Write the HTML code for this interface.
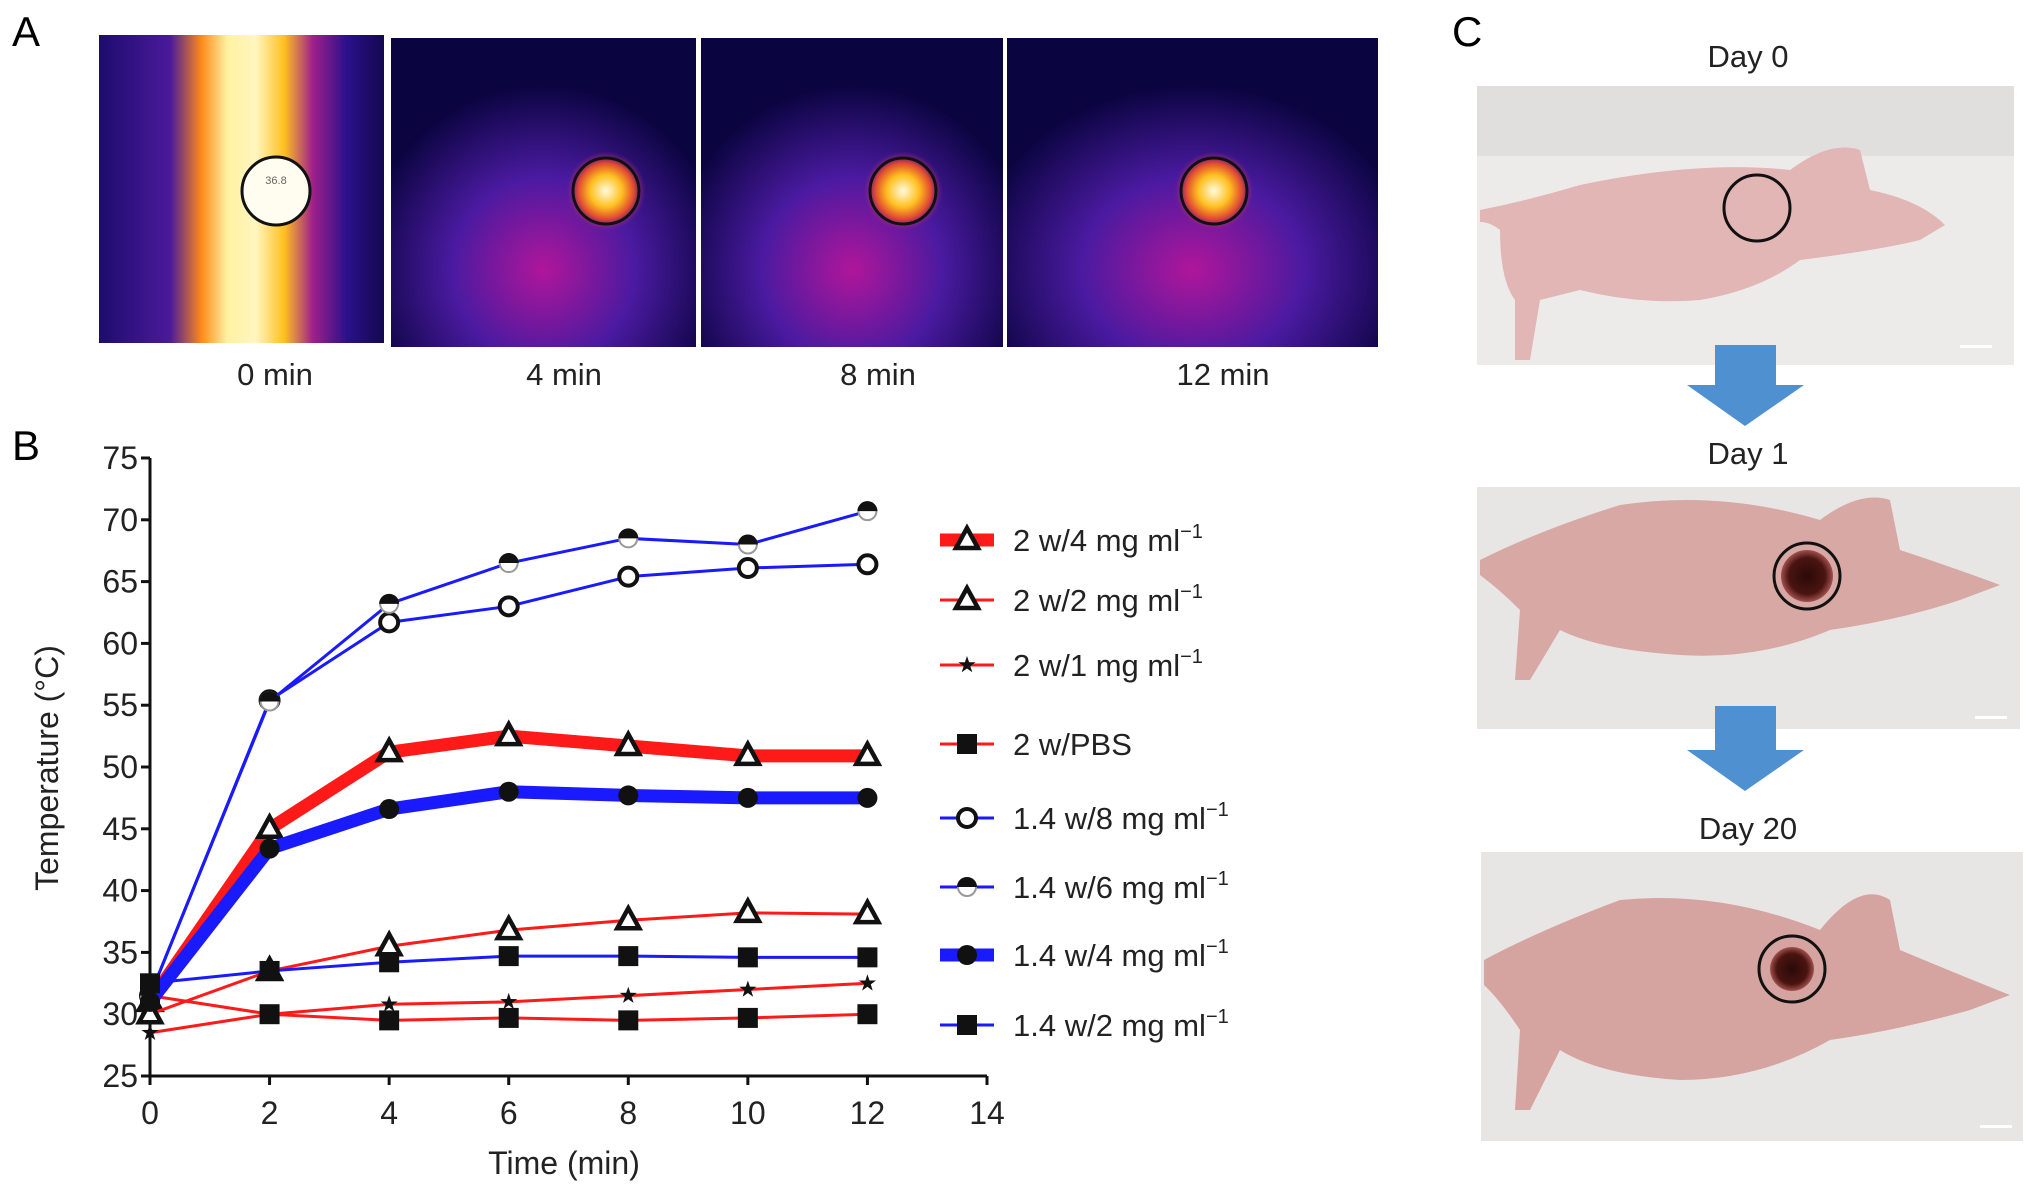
<!DOCTYPE html>
<html><head><meta charset="utf-8"><style>
html,body{margin:0;padding:0;background:#fff;}
svg{display:block;font-family:"Liberation Sans",sans-serif;}
</style></head><body>
<svg id="fig" width="2032" height="1190" viewBox="0 0 2032 1190" xmlns="http://www.w3.org/2000/svg">
<defs>
<linearGradient id="band0" x1="0" x2="1" y1="0" y2="0">
<stop offset="0" stop-color="#1d0c6e"/><stop offset="0.25" stop-color="#4a1a9a"/><stop offset="0.36" stop-color="#ff8a1a"/><stop offset="0.45" stop-color="#fff2a0"/><stop offset="0.55" stop-color="#fff6c0"/><stop offset="0.65" stop-color="#ffc020"/><stop offset="0.75" stop-color="#a0208a"/><stop offset="0.87" stop-color="#2a108a"/><stop offset="1" stop-color="#140850"/></linearGradient>
<radialGradient id="spot" cx="0.5" cy="0.5" r="0.5">
<stop offset="0" stop-color="#fffbe0"/><stop offset="0.4" stop-color="#ffc020"/><stop offset="0.7" stop-color="#e04a30"/><stop offset="1" stop-color="#7a1a90" stop-opacity="0"/></radialGradient>
<radialGradient id="glow" cx="0.5" cy="0.75" r="0.6">
<stop offset="0" stop-color="#b0169a"/><stop offset="0.5" stop-color="#4a1aa0"/><stop offset="1" stop-color="#0a0440"/></radialGradient>
<radialGradient id="tum" cx="0.5" cy="0.5" r="0.5"><stop offset="0" stop-color="#2a0a0a"/><stop offset="0.7" stop-color="#4a1410"/><stop offset="1" stop-color="#a05050"/></radialGradient>
</defs>

<text x="12" y="46" font-size="42">A</text>
<g>
<rect x="99" y="35" width="285" height="308" fill="url(#band0)"/>
<ellipse cx="276" cy="191" rx="34" ry="34" fill="#fffdf0" stroke="#111" stroke-width="3"/>
<text x="276" y="184" font-size="11" text-anchor="middle" fill="#666">36.8</text>
</g>
<g>
<rect x="391" y="38" width="305" height="309" fill="url(#glow)"/>
<circle cx="606" cy="191" r="40" fill="url(#spot)"/>
<circle cx="606" cy="191" r="33" fill="none" stroke="#111" stroke-width="3"/>
</g>
<g>
<rect x="701" y="38" width="302" height="309" fill="url(#glow)"/>
<circle cx="903" cy="191" r="40" fill="url(#spot)"/>
<circle cx="903" cy="191" r="33" fill="none" stroke="#111" stroke-width="3"/>
</g>
<g>
<rect x="1007" y="38" width="371" height="309" fill="url(#glow)"/>
<circle cx="1214" cy="191" r="40" fill="url(#spot)"/>
<circle cx="1214" cy="191" r="33" fill="none" stroke="#111" stroke-width="3"/>
</g>
<g font-size="31" text-anchor="middle" fill="#222">
<text x="275" y="385">0 min</text>
<text x="564" y="385">4 min</text>
<text x="878" y="385">8 min</text>
<text x="1223" y="385">12 min</text>
</g>

<text x="12" y="460" font-size="42">B</text>
<g id="chart"></g>

<text x="1452" y="46" font-size="42">C</text>
<g font-size="31" text-anchor="middle" fill="#222">
<text x="1748" y="67">Day 0</text>
<text x="1748" y="464">Day 1</text>
<text x="1748" y="839">Day 20</text>
</g>
<g>
<rect x="1477" y="86" width="537" height="279" fill="#ecebea"/>
<rect x="1477" y="86" width="537" height="70" fill="#e0dfdd"/>
<path d="M1480 210 Q1530 200 1580 185 Q1700 160 1790 170 Q1830 140 1860 150 L1870 190 Q1920 200 1945 225 L1920 240 Q1880 250 1800 260 Q1760 290 1700 300 Q1640 305 1580 290 L1540 300 L1530 360 L1515 360 L1515 300 Q1500 280 1500 230 Q1490 222 1480 222 Z" fill="#e2b6b4"/>
<circle cx="1757" cy="208" r="33" fill="none" stroke="#111" stroke-width="3"/>
<rect x="1960" y="345" width="32" height="3" fill="#fff"/>
</g>
<polygon points="1715,345 1776,345 1776,385 1804,385 1745,426 1687,385 1715,385" fill="#4f90d0"/>
<g>
<rect x="1477" y="487" width="543" height="242" fill="#e8e6e4"/>
<path d="M1480 560 Q1540 530 1620 505 Q1720 490 1820 520 Q1860 490 1890 500 L1900 550 Q1960 570 2000 585 L1960 600 Q1900 620 1830 630 Q1760 660 1680 655 Q1600 650 1560 630 L1530 680 L1515 680 L1520 610 Q1500 590 1480 575 Z" fill="#d8a8a4"/>
<circle cx="1807" cy="576" r="26" fill="url(#tum)"/>
<circle cx="1807" cy="576" r="33" fill="none" stroke="#111" stroke-width="3"/>
<rect x="1975" y="716" width="32" height="3" fill="#fff"/>
</g>
<polygon points="1715,706 1776,706 1776,750 1804,750 1745,791 1687,750 1715,750" fill="#4f90d0"/>
<g>
<rect x="1481" y="852" width="542" height="289" fill="#e8e6e4"/>
<path d="M1484 960 Q1540 930 1620 900 Q1720 890 1820 930 Q1860 880 1890 900 L1900 950 Q1960 975 2010 995 L1970 1010 Q1900 1030 1830 1040 Q1760 1080 1680 1080 Q1600 1075 1560 1050 L1530 1110 L1515 1110 L1520 1030 Q1500 1000 1484 985 Z" fill="#d6a4a0"/>
<circle cx="1792" cy="969" r="22" fill="url(#tum)"/>
<circle cx="1792" cy="969" r="33" fill="none" stroke="#111" stroke-width="3"/>
<rect x="1980" y="1125" width="32" height="3" fill="#fff"/>
</g>
</svg>
<script>
const times = [0, 2, 4, 6, 8, 10, 12];
const xTicks = [0, 2, 4, 6, 8, 10, 12, 14];
const yTicks = [25, 30, 35, 40, 45, 50, 55, 60, 65, 70, 75];
const s2w4 = [31, 45, 51.2, 52.5, 51.7, 50.9, 50.9];
const s2w2 = [30, 33.5, 35.5, 36.8, 37.6, 38.2, 38.1];
const s2w1 = [28.5, 30, 30.8, 31, 31.5, 32, 32.5];
const s2wPBS = [31.5, 30, 29.5, 29.7, 29.5, 29.7, 30];
const s14w8 = [31.5, 55.4, 61.7, 63, 65.4, 66.1, 66.4];
const s14w6 = [31.5, 55.3, 63.2, 66.5, 68.5, 68, 70.7];
const s14w4 = [31, 43.4, 46.6, 48, 47.7, 47.5, 47.5];
const s14w2 = [32.5, 33.5, 34.2, 34.7, 34.7, 34.6, 34.6];
const seriesNames = ["2 w/4 mg ml", "2 w/2 mg ml", "2 w/1 mg ml", "2 w/PBS", "1.4 w/8 mg ml", "1.4 w/6 mg ml", "1.4 w/4 mg ml", "1.4 w/2 mg ml"];

const NS = "http://www.w3.org/2000/svg";
const g = document.getElementById("chart");
const X0 = 150, X1 = 987, Y0 = 1076, Y1 = 458;
function xs(v){ return X0 + (v - 0) / 14 * (X1 - X0); }
function ys(v){ return Y0 - (v - 25) / 50 * (Y0 - Y1); }
function mk(tag, attrs, parent){ const e = document.createElementNS(NS, tag); for (const k in attrs) e.setAttribute(k, attrs[k]); (parent || g).appendChild(e); return e; }

let ax = mk("line", {x1: X0, y1: Y1, x2: X0, y2: Y0, stroke: "#111", "stroke-width": 3});


ax = mk("line", {x1: X0, y1: Y0, x2: X1, y2: Y0, stroke: "#111", "stroke-width": 3});


yTicks.forEach(v => {
  mk("line", {x1: X0 - 9, y1: ys(v), x2: X0, y2: ys(v), stroke: "#111", "stroke-width": 3});
  const t = mk("text", {x: X0 - 12, y: ys(v) + 11, "font-size": 32, "text-anchor": "end", fill: "#222"});
  t.textContent = v;
  
  
});
xTicks.forEach(v => {
  mk("line", {x1: xs(v), y1: Y0, x2: xs(v), y2: Y0 + 9, stroke: "#111", "stroke-width": 3});
  const t = mk("text", {x: xs(v), y: Y0 + 48, "font-size": 32, "text-anchor": "middle", fill: "#222"});
  t.textContent = v;
  
  
});
let tt = mk("text", {x: 564, y: 1174, "font-size": 32, "text-anchor": "middle", fill: "#222"});
tt.textContent = "Time (min)";


tt = mk("text", {x: 0, y: 0, "font-size": 32, "text-anchor": "middle", fill: "#222", transform: "translate(58,768) rotate(-90)"});
tt.textContent = "Temperature (°C)";



function marker(type, x, y, parent){
  const p = parent;
  if (type === "tri") {
    mk("polygon", {points: `${x},${y-12} ${x-11},${y+8} ${x+11},${y+8}`, fill: "#fff", stroke: "#111", "stroke-width": 4.5}, p);
  } else if (type === "star") {
    let pts = [];
    for (let i = 0; i < 10; i++) { const r = i % 2 ? 3.5 : 9, a = -Math.PI/2 + i * Math.PI/5; pts.push((x + r*Math.cos(a)).toFixed(1) + "," + (y + r*Math.sin(a)).toFixed(1)); }
    mk("polygon", {points: pts.join(" "), fill: "#111"}, p);
  } else if (type === "sq") {
    mk("rect", {x: x-10, y: y-10, width: 20, height: 20, fill: "#111"}, p);
  } else if (type === "ocirc") {
    mk("circle", {cx: x, cy: y, r: 9, fill: "#fff", stroke: "#111", "stroke-width": 4}, p);
  } else if (type === "hcirc") {
    mk("circle", {cx: x, cy: y, r: 9, fill: "#fff", stroke: "#999", "stroke-width": 2}, p);
    mk("path", {d: `M${x-10},${y} A10,10 0 0 1 ${x+10},${y} Z`, fill: "#111"}, p);
  } else if (type === "fcirc") {
    mk("circle", {cx: x, cy: y, r: 10, fill: "#111"}, p);
  }
}
const series = [
  {d: s2w4, c: "#ff1a1a", w: 13, m: "tri", n: "series-2w-4mg"},
  {d: s2w2, c: "#ff1a1a", w: 3, m: "tri", n: "series-2w-2mg"},
  {d: s2w1, c: "#ff1a1a", w: 3, m: "star", n: "series-2w-1mg"},
  {d: s2wPBS, c: "#ff1a1a", w: 3, m: "sq", n: "series-2w-pbs"},
  {d: s14w8, c: "#1a1aff", w: 3, m: "ocirc", n: "series-1.4w-8mg"},
  {d: s14w6, c: "#1a1aff", w: 3, m: "hcirc", n: "series-1.4w-6mg"},
  {d: s14w4, c: "#1a1aff", w: 13, m: "fcirc", n: "series-1.4w-4mg"},
  {d: s14w2, c: "#1a1aff", w: 3, m: "sq", n: "series-1.4w-2mg"}
];
series.forEach(s => {
  const sg = mk("g", {});
  
  
  const line = mk("polyline", {points: s.d.map((v, i) => xs(times[i]) + "," + ys(v)).join(" "), fill: "none", stroke: s.c, "stroke-width": s.w, "stroke-linejoin": "round"}, sg);
  
  
  s.d.forEach((v, i) => marker(s.m, xs(times[i]), ys(v), sg));
});
const legY = [540, 600, 665, 744, 818, 887, 955, 1025];
series.forEach((s, i) => {
  const lg = mk("g", {});
  
  
  const y = legY[i];
  mk("line", {x1: 940, y1: y, x2: 994, y2: y, stroke: s.c, "stroke-width": s.w}, lg);
  marker(s.m, 967, y, lg);
  const t = mk("text", {x: 1013, y: y + 11, "font-size": 31, fill: "#222"}, lg);
  t.textContent = seriesNames[i];
  if (i !== 3) {
    const sup = mk("tspan", {dy: -13, "font-size": 20}, t);
    sup.textContent = "−1";
  }
});
</script>
</body></html>
